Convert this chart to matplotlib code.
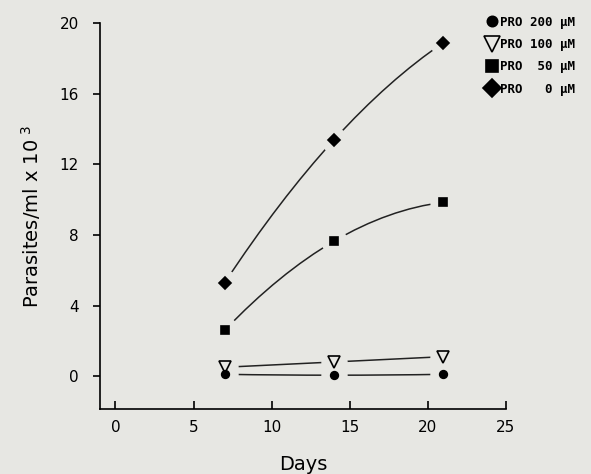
import matplotlib.pyplot as plt
import numpy as np
from matplotlib.path import Path
from matplotlib.patches import PathPatch

days = [7, 14, 21]
pro200 = [0.1, 0.05, 0.1]
pro100 = [0.5, 0.8, 1.1]
pro50 = [2.6, 7.65, 9.85]
pro0 = [5.3, 13.4, 18.9]
labels = ['PRO 200 \u00b5M', 'PRO 100 \u00b5M', 'PRO  50 \u00b5M', 'PRO   0 \u00b5M']

bg = '#e7e7e3'


def smooth_path(x, y):
    # bezier segments through the points, end tangents from the neighbours
    pts = np.column_stack([x, y]).astype(float)
    n = len(pts)
    first = 3 * pts[0] - 3 * pts[1] + pts[2]
    last = 3 * pts[-1] - 3 * pts[-2] + pts[-3]
    ext = np.vstack([first, pts, last])
    verts = [pts[0]]
    codes = [Path.MOVETO]
    for i in range(1, n):
        p0, p1, p2, p3 = ext[i - 1], ext[i], ext[i + 1], ext[i + 2]
        verts += [p1 + (p2 - p0) / 6, p2 - (p3 - p1) / 6, p2]
        codes += [Path.CURVE4] * 3
    return Path(verts, codes)


fig = plt.figure(figsize=(5.91, 4.74), dpi=100, facecolor=bg)
ax = fig.add_axes([0.169, 0.137, 0.687, 0.814])
ax.set_facecolor(bg)

series = [pro200, pro100, pro50, pro0]
markers = ['o', 'v', 's', 'D']
msizes = [5.5, 8.5, 6.0, 6.5]
fills = ['black', 'none', 'black', 'black']

for vals, m, ms, fc, lab in zip(series, markers, msizes, fills, labels):
    ax.add_patch(PathPatch(smooth_path(days, vals), fill=False, lw=1.1,
                           ec='#222222', zorder=1))
    ax.plot(days, vals, ls='none', marker='o', ms=19, mfc=bg, mec='none', zorder=2)
    ax.plot(days, vals, ls='none', marker=m, ms=ms, mfc=fc, mec='black',
            mew=1.2, zorder=3, label=lab)

ax.set_xlim(-1, 25)
ax.set_ylim(-1.87, 20)
ax.set_xticks([0, 5, 10, 15, 20, 25])
ax.set_yticks([0, 4, 8, 12, 16, 20])
ax.spines['top'].set_visible(False)
ax.spines['right'].set_visible(False)
for s in ['left', 'bottom']:
    ax.spines[s].set_linewidth(1.2)
ax.tick_params(axis='x', direction='in', length=6, width=1.2, labelsize=11, pad=8)
ax.tick_params(axis='y', direction='out', length=5, width=1.2, labelsize=11, pad=10)

ax.set_xlabel('Days', fontsize=14, labelpad=14)
ax.set_ylabel('Parasites/ml x 10$^{\\ 3}$', fontsize=14, labelpad=12)

leg = ax.legend(loc='upper left', bbox_to_anchor=(0.81, 0.98),
                bbox_transform=fig.transFigure, frameon=False,
                prop={'family': 'DejaVu Sans Mono', 'size': 9, 'weight': 'bold'},
                handletextpad=0.0, labelspacing=0.75, handlelength=1.2,
                markerscale=1.35, borderpad=0)

fig.savefig('out.png', dpi=100, facecolor=bg)
